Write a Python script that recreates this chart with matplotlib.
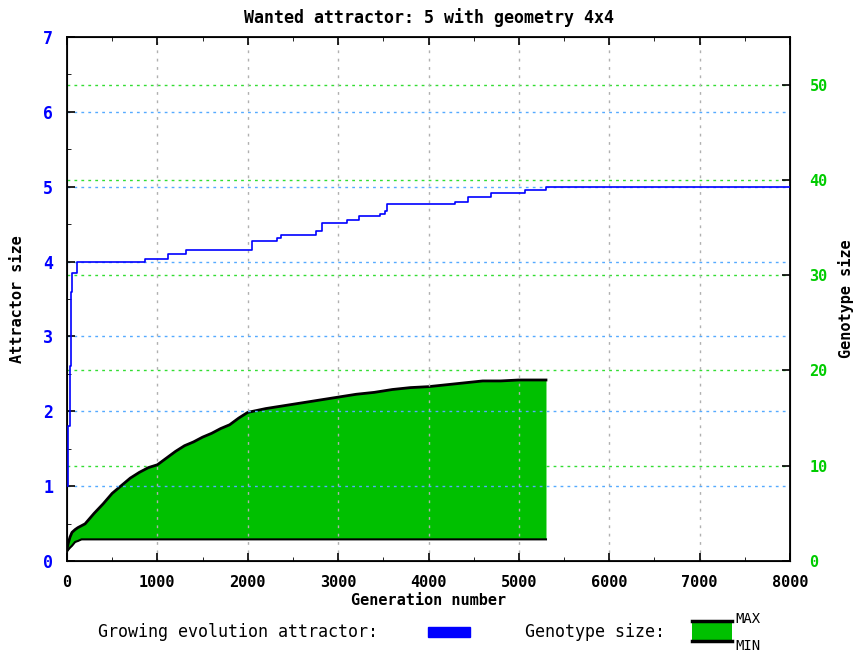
import numpy as np
import matplotlib
matplotlib.use("Agg")
import matplotlib.pyplot as plt
import matplotlib.patches as mpatches
from matplotlib.ticker import MultipleLocator

# -------------------------
# Data
# -------------------------
# attractor size (left axis), step function over generations
attr_gen = [0, 8, 15, 30, 40, 50, 60, 115, 860, 1120, 1315, 2045, 2320, 2363,
            2755, 2817, 3093, 3233, 3462, 3518, 3543, 4292, 4440, 4690, 5066, 5300, 8000]
attr_val = [1.0, 1.5, 1.8, 2.6, 3.6, 3.85, 3.85, 4.0, 4.04, 4.1, 4.16, 4.27, 4.31, 4.35,
            4.41, 4.51, 4.55, 4.61, 4.64, 4.68, 4.77, 4.79, 4.86, 4.91, 4.95, 5.0, 5.0]

# genotype size (right axis), max and min envelopes
geno_gen = [0, 15, 33, 55, 90, 120, 160, 200, 300, 400, 500, 600, 700, 800, 900,
            1000, 1100, 1200, 1300, 1400, 1500, 1600, 1700, 1800, 1900, 2000,
            2200, 2400, 2600, 2800, 3000, 3200, 3400, 3600, 3800, 4000, 4200,
            4400, 4600, 4800, 5000, 5300]
geno_max = [1.3, 1.9, 2.5, 3.0, 3.3, 3.5, 3.7, 3.9, 5.0, 6.0, 7.1, 7.9, 8.7, 9.3, 9.8,
            10.1, 10.8, 11.5, 12.1, 12.5, 13.0, 13.4, 13.9, 14.3, 15.0, 15.6,
            16.0, 16.3, 16.6, 16.9, 17.2, 17.5, 17.7, 18.0, 18.2, 18.3, 18.5,
            18.7, 18.9, 18.9, 19.0, 19.0]
geno_min = [1.0, 1.2, 1.4, 1.6, 2.0, 2.1, 2.27, 2.27, 2.27, 2.27, 2.27, 2.27, 2.27, 2.27, 2.27,
            2.27, 2.27, 2.27, 2.27, 2.27, 2.27, 2.27, 2.27, 2.27, 2.27, 2.27,
            2.27, 2.27, 2.27, 2.27, 2.27, 2.27, 2.27, 2.27, 2.27, 2.27, 2.27,
            2.27, 2.27, 2.27, 2.27, 2.27]

BLUE = "#0000ff"
GREEN = "#00c000"
TXT_GREEN = "#00cc00"
MONO = "DejaVu Sans Mono"

fig = plt.figure(figsize=(8.57, 6.54), dpi=100)
ax = fig.add_axes([67 / 857, 93 / 654, 723 / 857, 524 / 654])
ax2 = ax.twinx()

# genotype envelope
ax2.fill_between(geno_gen, geno_min, geno_max, color=GREEN, lw=0, zorder=2)
ax2.plot(geno_gen, geno_max, color="black", lw=2, zorder=3)
ax2.plot(geno_gen, geno_min, color="black", lw=1.5, zorder=3)

# attractor line on top
ax.set_zorder(ax2.get_zorder() + 1)
ax.patch.set_visible(False)
ax.step(attr_gen, attr_val, where="post", color=BLUE, lw=1.2, zorder=4)

ax.set_xlim(0, 8000)
ax.set_ylim(0, 7)
ax2.set_ylim(0, 55)

# grids
for x in range(1000, 8000, 1000):
    ax.axvline(x, color="#b0b0b0", ls=(0, (2, 4)), lw=1, zorder=0)
for y in range(1, 7):
    ax.axhline(y, color="#55aaff", ls=(0, (2, 3)), lw=1, zorder=0)
for y in range(10, 55, 10):
    ax2.axhline(y, color="#33dd33", ls=(0, (2, 3)), lw=1, zorder=0)

# ticks
ax.xaxis.set_major_locator(MultipleLocator(1000))
ax.xaxis.set_minor_locator(MultipleLocator(500))
ax.yaxis.set_major_locator(MultipleLocator(1))
ax.yaxis.set_minor_locator(MultipleLocator(0.5))
ax2.yaxis.set_major_locator(MultipleLocator(10))
ax.tick_params(which="both", direction="in", top=True)
ax.tick_params(which="major", length=6, width=1.2)
ax.tick_params(which="minor", length=3)
ax2.tick_params(which="both", direction="in")
ax2.tick_params(which="major", length=6, width=1.2)
ax.tick_params(axis="x", pad=10)

for lab in ax.get_xticklabels():
    lab.set_fontfamily(MONO); lab.set_fontweight("bold"); lab.set_fontsize(11)
for lab in ax.get_yticklabels():
    lab.set_fontfamily(MONO); lab.set_fontweight("bold"); lab.set_fontsize(12)
    lab.set_color(BLUE)
for lab in ax2.get_yticklabels():
    lab.set_fontfamily(MONO); lab.set_fontweight("bold"); lab.set_fontsize(11)
    lab.set_color(TXT_GREEN)
ax.tick_params(axis="y", pad=10)
ax2.tick_params(axis="y", pad=14)

for sp in ax.spines.values():
    sp.set_linewidth(1.3)

ax.set_title("Wanted attractor: 5 with geometry 4x4", fontfamily=MONO,
             fontweight="bold", fontsize=12, pad=10)
ax.set_xlabel("Generation number", fontfamily=MONO, fontweight="bold", fontsize=11, labelpad=2)
ax.set_ylabel("Attractor size", fontfamily=MONO, fontweight="bold", fontsize=11)
ax2.set_ylabel("Genotype size", fontfamily=MONO, fontweight="bold", fontsize=11)
ax.yaxis.set_label_coords(-0.058, 0.5)
ax2.yaxis.set_label_coords(1.066, 0.5)

# legend below the axes, drawn by hand like gnuplot
ft = fig.transFigure
fig.text(98 / 857, 1 - 632 / 654, "Growing evolution attractor:", fontfamily=MONO,
         fontsize=12, va="center", ha="left")
fig.patches.append(mpatches.Rectangle((428 / 857, 1 - 637 / 654), 42 / 857, 10 / 654,
                                      transform=ft, color=BLUE))
fig.text(525 / 857, 1 - 632 / 654, "Genotype size:", fontfamily=MONO,
         fontsize=12, va="center", ha="left")
fig.patches.append(mpatches.Rectangle((692 / 857, 1 - 641 / 654), 40 / 857, 20 / 654,
                                      transform=ft, facecolor=GREEN, edgecolor="none"))
fig.add_artist(plt.Line2D([692 / 857, 732 / 857], [1 - 621 / 654] * 2, transform=ft,
                          color="black", lw=2.5))
fig.add_artist(plt.Line2D([692 / 857, 732 / 857], [1 - 641 / 654] * 2, transform=ft,
                          color="black", lw=2.5))
fig.text(735 / 857, 1 - 619 / 654, "MAX", fontfamily=MONO, fontsize=10, va="center", ha="left")
fig.text(735 / 857, 1 - 646 / 654, "MIN", fontfamily=MONO, fontsize=10, va="center", ha="left")

fig.savefig("out.png", dpi=100)
